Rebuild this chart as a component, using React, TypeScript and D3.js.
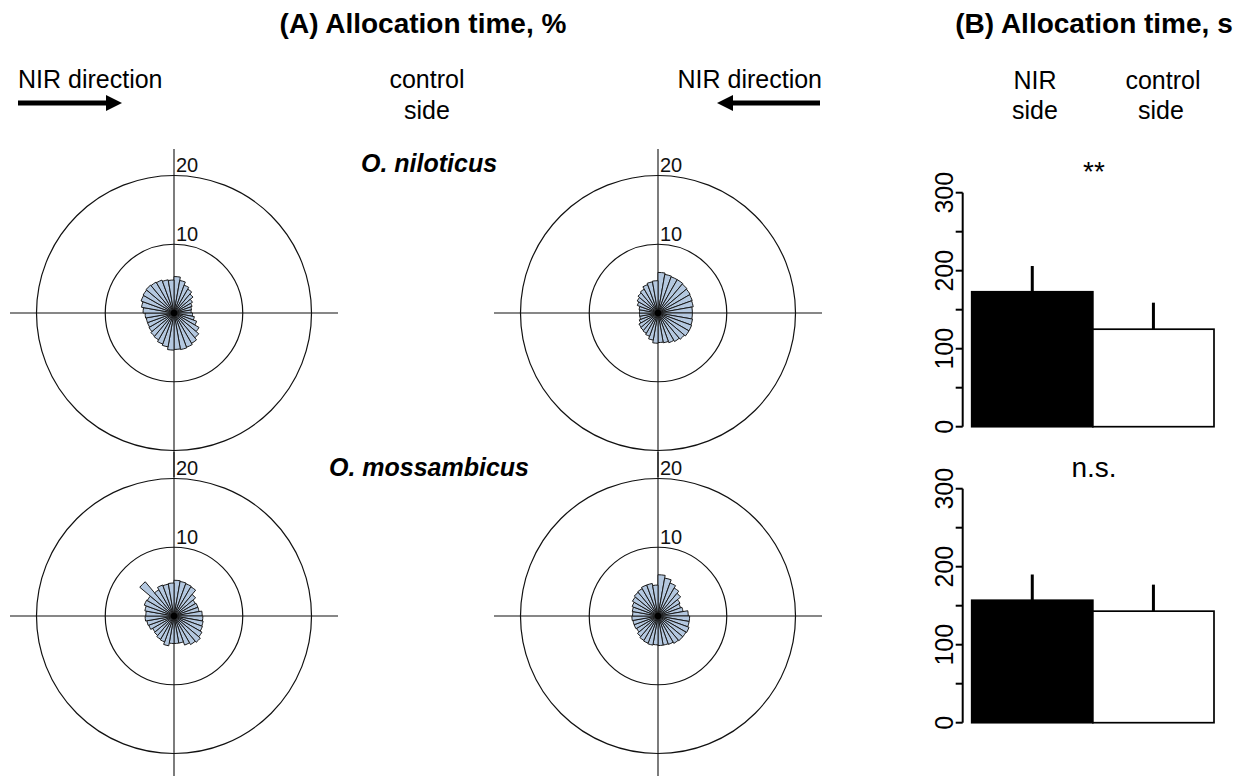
import React from "react";
import * as d3 from "d3";

// ---------- data ----------
// Rose diagrams: % of time per 10° bin, clockwise from north
const niloticusLeft = [5.3, 4.8, 4.3, 4.0, 3.6, 3.1, 2.8, 2.6, 2.5, 2.7, 3.0, 3.5, 4.2, 4.7, 5.1, 5.3, 5.4, 5.3, 5.4, 5.0, 4.8, 4.5, 4.4, 4.2, 4.1, 4.1, 4.2, 4.5, 4.8, 5.1, 5.2, 5.3, 5.2, 5.1, 4.9, 4.8];
const niloticusRight = [5.9, 5.7, 5.6, 5.6, 5.5, 5.4, 5.3, 5.2, 5.0, 5.0, 5.1, 5.2, 5.2, 5.0, 4.8, 4.6, 4.4, 4.3, 4.4, 4.0, 3.6, 3.4, 3.3, 3.2, 2.9, 2.7, 2.7, 2.7, 2.8, 3.2, 3.5, 3.8, 4.0, 4.4, 4.6, 4.7];
const mossambicusLeft = [5.2, 5.1, 5.0, 4.9, 4.1, 3.6, 3.7, 3.7, 4.1, 4.2, 4.3, 4.4, 4.7, 5.0, 4.8, 4.5, 4.0, 4.0, 4.0, 4.4, 4.0, 3.9, 3.7, 3.6, 3.9, 4.0, 4.2, 4.1, 4.3, 4.6, 4.5, 6.5, 4.4, 4.8, 4.7, 4.8];
const mossambicusRight = [6.0, 5.6, 5.1, 4.7, 4.3, 3.7, 3.5, 3.7, 4.4, 4.6, 4.6, 4.8, 4.7, 4.7, 4.6, 4.4, 4.3, 4.3, 4.2, 4.3, 4.2, 4.1, 3.9, 3.6, 3.7, 3.7, 3.8, 3.7, 3.8, 4.0, 4.3, 4.5, 4.6, 4.8, 4.8, 4.5];
const ringValues = [10, 20];

// Bar charts: allocation time (s)
const barCategories = ["NIR side", "control side"];
const niloticusMeans = [173, 125];
const niloticusUpper = [206, 159];
const mossambicusMeans = [157, 143];
const mossambicusUpper = [190, 177];
const barTicks = [0, 50, 100, 150, 200, 250, 300];
const barTickLabels = [0, 100, 200, 300];
const significance = ["**", "n.s."];

const FONT = "'Liberation Sans', Arial, Helvetica, sans-serif";
const ROSE_FILL = "#b4c8e0";

const rScale = d3.scaleLinear().domain([0, 20]).range([0, 137.5]);
const arcGen = d3.arc<any>();

function Rose({ cx, cy, values }: { cx: number; cy: number; values: number[] }) {
  const n = values.length;
  const step = (2 * Math.PI) / n;
  const ext = 164;
  return (
    <g transform={`translate(${cx},${cy})`}>
      {ringValues.map((v) => (
        <circle key={v} r={rScale(v)} fill="none" stroke="#111" strokeWidth={1.2} />
      ))}
      <line x1={-ext} x2={ext} y1={0} y2={0} stroke="#111" strokeWidth={1.1} />
      <line x1={0} x2={0} y1={-ext} y2={ext} stroke="#111" strokeWidth={1.1} />
      {ringValues.map((v) => (
        <text key={"l" + v} x={2} y={-rScale(v) - 3.5} fontSize={20} fontFamily={FONT} fill="#111">
          {v}
        </text>
      ))}
      {values.map((v, i) => (
        <path
          key={i}
          d={arcGen({ innerRadius: 0, outerRadius: rScale(v), startAngle: i * step, endAngle: (i + 1) * step }) || ""}
          fill={ROSE_FILL}
          stroke="#1a1a1a"
          strokeWidth={1}
          strokeLinejoin="round"
        />
      ))}
      <circle r={3.2} fill="#000" />
    </g>
  );
}

function BarPanel({ y0, means, upper, sig }: { y0: number; means: number[]; upper: number[]; sig: string }) {
  const y = d3.scaleLinear().domain([0, 300]).range([y0, y0 - 234]);
  const x = d3.scaleBand().domain(barCategories).range([971.7, 1214]).padding(0);
  const axisX = 962.7;
  return (
    <g>
      <line x1={axisX} x2={axisX} y1={y(0)} y2={y(300)} stroke="#000" strokeWidth={2} />
      {barTicks.map((t) => (
        <line key={t} x1={axisX - 7} x2={axisX} y1={y(t)} y2={y(t)} stroke="#000" strokeWidth={2} />
      ))}
      {barTickLabels.map((t) => (
        <text
          key={"t" + t}
          transform={`translate(953,${y(t)}) rotate(-90)`}
          textAnchor="middle"
          fontSize={25}
          fontFamily={FONT}
          fill="#000"
        >
          {t}
        </text>
      ))}
      {barCategories.map((c, i) => (
        <g key={c}>
          <rect
            x={x(c)!}
            y={y(means[i])}
            width={x.bandwidth()}
            height={y(0) - y(means[i])}
            fill={i === 0 ? "#000" : "#fff"}
            stroke="#000"
            strokeWidth={1.7}
          />
          <line
            x1={x(c)! + x.bandwidth() / 2}
            x2={x(c)! + x.bandwidth() / 2}
            y1={y(means[i])}
            y2={y(upper[i])}
            stroke="#000"
            strokeWidth={3}
          />
        </g>
      ))}
      <text x={1094} y={y0 - 246} textAnchor="middle" fontSize={28} fontFamily={FONT} fill="#000">
        {sig}
      </text>
    </g>
  );
}

function Arrow({ x1, x2, y }: { x1: number; x2: number; y: number }) {
  const dir = Math.sign(x2 - x1);
  const headLen = 16;
  const headHalf = 8;
  const baseX = x2 - dir * headLen;
  return (
    <g>
      <line x1={x1} x2={baseX} y1={y} y2={y} stroke="#000" strokeWidth={5} />
      <path d={`M${x2},${y} L${baseX},${y - headHalf} L${baseX},${y + headHalf} Z`} fill="#000" />
    </g>
  );
}

export default function App() {
  return (
    <svg
      width={1238}
      height={776}
      viewBox="0 0 1238 776"
      style={{ position: "absolute", left: 0, top: 0, background: "#fff" }}
    >
      <rect width={1238} height={776} fill="#fff" />
      {/* titles */}
      <text x={423} y={33} textAnchor="middle" fontSize={28} fontWeight="bold" fontFamily={FONT}>
        (A) Allocation time, %
      </text>
      <text x={1094} y={33} textAnchor="middle" fontSize={28} fontWeight="bold" fontFamily={FONT}>
        (B) Allocation time, s
      </text>

      {/* headers */}
      <text x={18} y={88} fontSize={25} fontFamily={FONT}>NIR direction</text>
      <Arrow x1={18} x2={122} y={103} />
      <text x={822} y={88} textAnchor="end" fontSize={25} fontFamily={FONT}>NIR direction</text>
      <Arrow x1={820} x2={717} y={103} />
      <text x={427} y={88} textAnchor="middle" fontSize={25} fontFamily={FONT}>control</text>
      <text x={427} y={119} textAnchor="middle" fontSize={25} fontFamily={FONT}>side</text>
      <text x={1035} y={89} textAnchor="middle" fontSize={25} fontFamily={FONT}>NIR</text>
      <text x={1035} y={119} textAnchor="middle" fontSize={25} fontFamily={FONT}>side</text>
      <text x={1163} y={89} textAnchor="middle" fontSize={25} fontFamily={FONT}>control</text>
      <text x={1161} y={119} textAnchor="middle" fontSize={25} fontFamily={FONT}>side</text>

      {/* species labels */}
      <text x={429} y={172} textAnchor="middle" fontSize={25} fontWeight="bold" fontStyle="italic" fontFamily={FONT}>
        O. niloticus
      </text>
      <text x={429} y={476} textAnchor="middle" fontSize={25} fontWeight="bold" fontStyle="italic" fontFamily={FONT}>
        O. mossambicus
      </text>

      {/* roses */}
      <Rose cx={174} cy={313} values={niloticusLeft} />
      <Rose cx={658} cy={313} values={niloticusRight} />
      <Rose cx={174} cy={616} values={mossambicusLeft} />
      <Rose cx={658} cy={616} values={mossambicusRight} />

      {/* bars */}
      <BarPanel y0={426.7} means={niloticusMeans} upper={niloticusUpper} sig={significance[0]} />
      <BarPanel y0={722.7} means={mossambicusMeans} upper={mossambicusUpper} sig={significance[1]} />
    </svg>
  );
}
